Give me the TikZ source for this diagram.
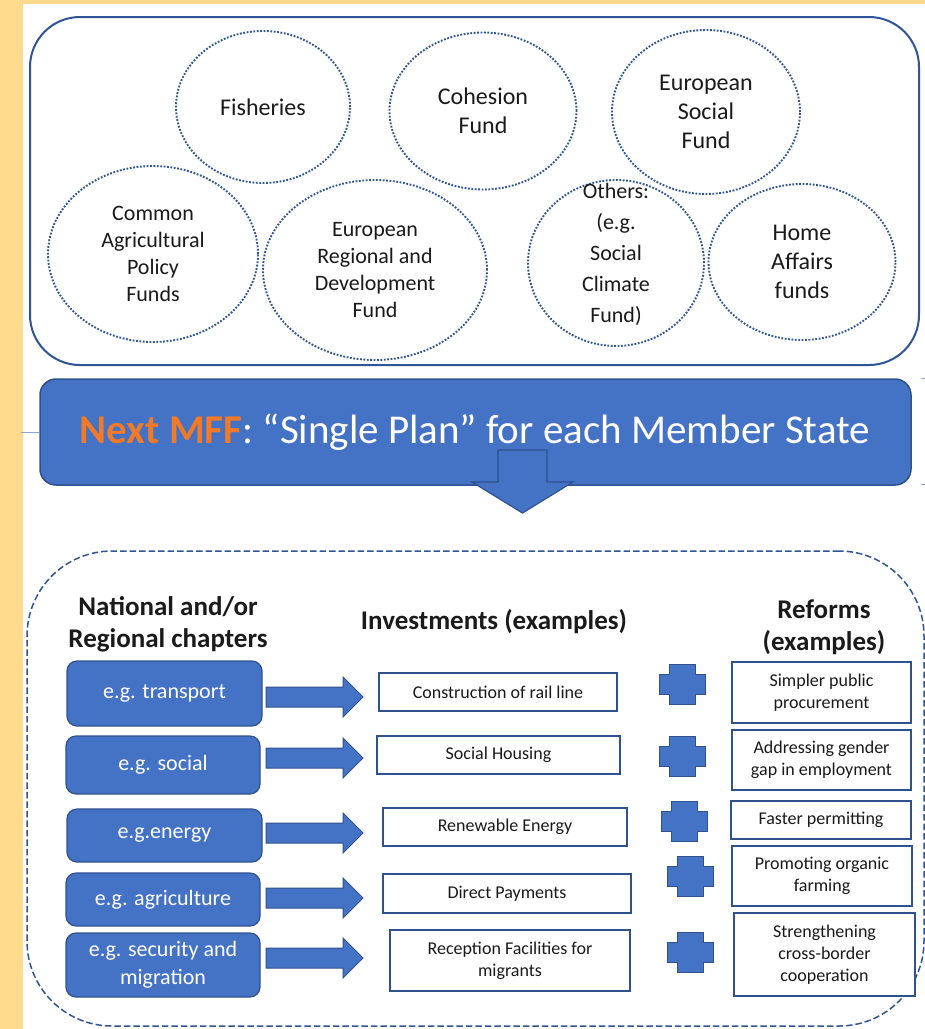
\documentclass[tikz,border=0pt]{standalone}
\usepackage{fontspec}
\setmainfont{Carlito}
\usetikzlibrary{shapes.geometric}
\definecolor{bgyellow}{HTML}{FFDA8C}
\definecolor{boxblue}{HTML}{4472C4}
\definecolor{edgeblue}{HTML}{2F528F}
\definecolor{lineblue}{HTML}{2F5597}
\definecolor{mffor}{HTML}{F07A28}
\definecolor{txt}{HTML}{1A1A1A}
\definecolor{thinline}{HTML}{8FA6CF}
\begin{document}
\begin{tikzpicture}[x=1pt,y=-1pt,
 fund/.style={ellipse, draw=lineblue, line width=1.9pt, dash pattern=on 1.8pt off 1.6pt, inner sep=0pt, align=center, text=txt},
 bigtext/.style={font=\fontsize{24}{29}\selectfont},
 midtext/.style={font=\fontsize{22}{27}\selectfont},
 chap/.style={rectangle, rounded corners=10pt, fill=boxblue, draw=edgeblue, line width=1.2pt, text=white, align=center, font=\fontsize{22}{28}\selectfont, inner sep=0pt},
 exbox/.style={rectangle, draw=edgeblue, line width=1.5pt, fill=white, align=center, text=txt, font=\fontsize{18}{22}\selectfont, inner sep=0pt},
 hdr/.style={align=center, text=txt, font=\bfseries\fontsize{27}{32}\selectfont},
 blockarrow/.pic={\filldraw[fill=boxblue, draw=edgeblue, line width=1pt] (0,-10) -- (77,-10) -- (77,-20) -- (97,0) -- (77,20) -- (77,10) -- (0,10) -- cycle;},
 plussign/.pic={\filldraw[fill=boxblue, draw=edgeblue, line width=1pt] (-13,-20) -- (13,-20) -- (13,-10) -- (23,-10) -- (23,10) -- (13,10) -- (13,20) -- (-13,20) -- (-13,10) -- (-23,10) -- (-23,-10) -- (-13,-10) -- cycle;}
]
\useasboundingbox (0,0) rectangle (925,1029);
% background
\fill[bgyellow] (0,0) rectangle (925,1029);
\fill[white] (23,4) rectangle (925,1029);

% top container with funds
\node[draw=lineblue, line width=2pt, rounded corners=50pt, minimum width=889pt, minimum height=348pt, inner sep=0pt] (fundsbox) at (474.5,191) {};
\node[fund, bigtext, minimum width=174pt, minimum height=152pt] (fish) at (263,107) {Fisheries};
\node[fund, bigtext, minimum width=187pt, minimum height=157pt] (cohesion) at (483,111) {Cohesion\\Fund};
\node[fund, bigtext, minimum width=188pt, minimum height=164pt] (esf) at (706,112) {European\\Social\\Fund};
\node[fund, midtext, minimum width=210pt, minimum height=176pt] (cap) at (153,254) {Common\\Agricultural\\Policy\\Funds};
\node[fund, midtext, minimum width=224pt, minimum height=180pt] (erdf) at (375,270) {European\\Regional and\\Development\\Fund};
\node[fund, minimum width=176pt, minimum height=166pt] (others) at (616,263) {};
\node[align=center, text=txt, font=\fontsize{22}{31}\selectfont] (otherstext) at (616,254) {Others:\\(e.g.\\Social\\Climate\\Fund)};
\node[fund, bigtext, minimum width=187pt, minimum height=156pt] (home) at (802,262) {Home\\Affairs\\funds};

% banner
\node[rectangle, rounded corners=16pt, fill=boxblue, draw=edgeblue, line width=1.5pt, minimum width=871pt, minimum height=106pt, inner sep=0pt] (banner) at (475.5,432) {};
\draw[thinline, line width=1pt] (banner.west) -- ++(-18,0);
\coordinate (tickA) at (921,378);
\coordinate (tickB) at (921,484);
\draw[thinline, line width=1pt] (tickA) -- ++(4,0);
\draw[thinline, line width=1pt] (tickB) -- ++(4,0);
\node[text=white, font=\fontsize{41}{48}\selectfont, inner sep=0pt] (bannertext) at (475,432) {{\bfseries\color{mffor}Next MFF}: “Single Plan” for each Member State};
\draw[fill=boxblue, draw=edgeblue, line width=1.2pt] (498,450) -- (547,450) -- (547,482) -- (573,482) -- (522.5,513) -- (472,482) -- (498,482) -- cycle;

% bottom container
\node[draw=lineblue, dash pattern=on 6.5pt off 3pt, line width=1.5pt, rounded corners=85pt, minimum width=897pt, minimum height=475pt, inner sep=0pt] (planbox) at (475.5,788.5) {};

% headers
\node[hdr] (h1) at (168,624) {National and/or\\Regional chapters};
\node[hdr] (h2) at (494,622) {Investments (examples)};
\node[hdr] (h3) at (824,627) {Reforms\\(examples)};

% chapters
\node[chap, minimum width=195pt, minimum height=65pt] (b1) at (164.5,693.5) {e.g. transport};
\node[chap, minimum width=194pt, minimum height=58pt] (b2) at (163,765) {e.g. social};
\node[chap, minimum width=195pt, minimum height=53pt] (b3) at (164.5,835.5) {e.g.energy};
\node[chap, minimum width=194pt, minimum height=53pt] (b4) at (163,899.5) {e.g. agriculture};
\node[chap, minimum width=194pt, minimum height=64pt] (b5) at (163,965) {e.g. security and\\migration};

% arrows
\pic (a1) at (266,697) {blockarrow};
\pic (a2) at (266,758) {blockarrow};
\pic (a3) at (266,833) {blockarrow};
\pic (a4) at (266,898) {blockarrow};
\pic (a5) at (266,958) {blockarrow};

% investments
\node[exbox, minimum width=238pt, minimum height=38pt] (i1) at (498,692) {Construction of rail line};
\node[exbox, minimum width=243pt, minimum height=38pt] (i2) at (498.5,755) {Social Housing};
\node[exbox, minimum width=244pt, minimum height=38pt] (i3) at (505,827) {Renewable Energy};
\node[exbox, minimum width=248pt, minimum height=39pt] (i4) at (507,893.5) {Direct Payments};
\node[exbox, minimum width=240pt, minimum height=61pt] (i5) at (510,960.5) {Reception Facilities for\\migrants};

% plus signs
\pic (p1) at (682,684) {plussign};
\pic (p2) at (682,756) {plussign};
\pic (p3) at (684,821) {plussign};
\pic (p4) at (690,876) {plussign};
\pic (p5) at (690,952) {plussign};

% reforms
\node[exbox, minimum width=179pt, minimum height=61pt] (r1) at (821.5,692.5) {Simpler public\\procurement};
\node[exbox, minimum width=179pt, minimum height=60pt] (r2) at (821.5,760) {Addressing gender\\gap in employment};
\node[exbox, minimum width=180pt, minimum height=38pt] (r3) at (821,820) {Faster permitting};
\node[exbox, minimum width=180pt, minimum height=60pt] (r4) at (822,876) {Promoting organic\\farming};
\node[exbox, minimum width=181pt, minimum height=83pt] (r5) at (824.5,954.5) {Strengthening\\cross-border\\cooperation};
\end{tikzpicture}
\end{document}
